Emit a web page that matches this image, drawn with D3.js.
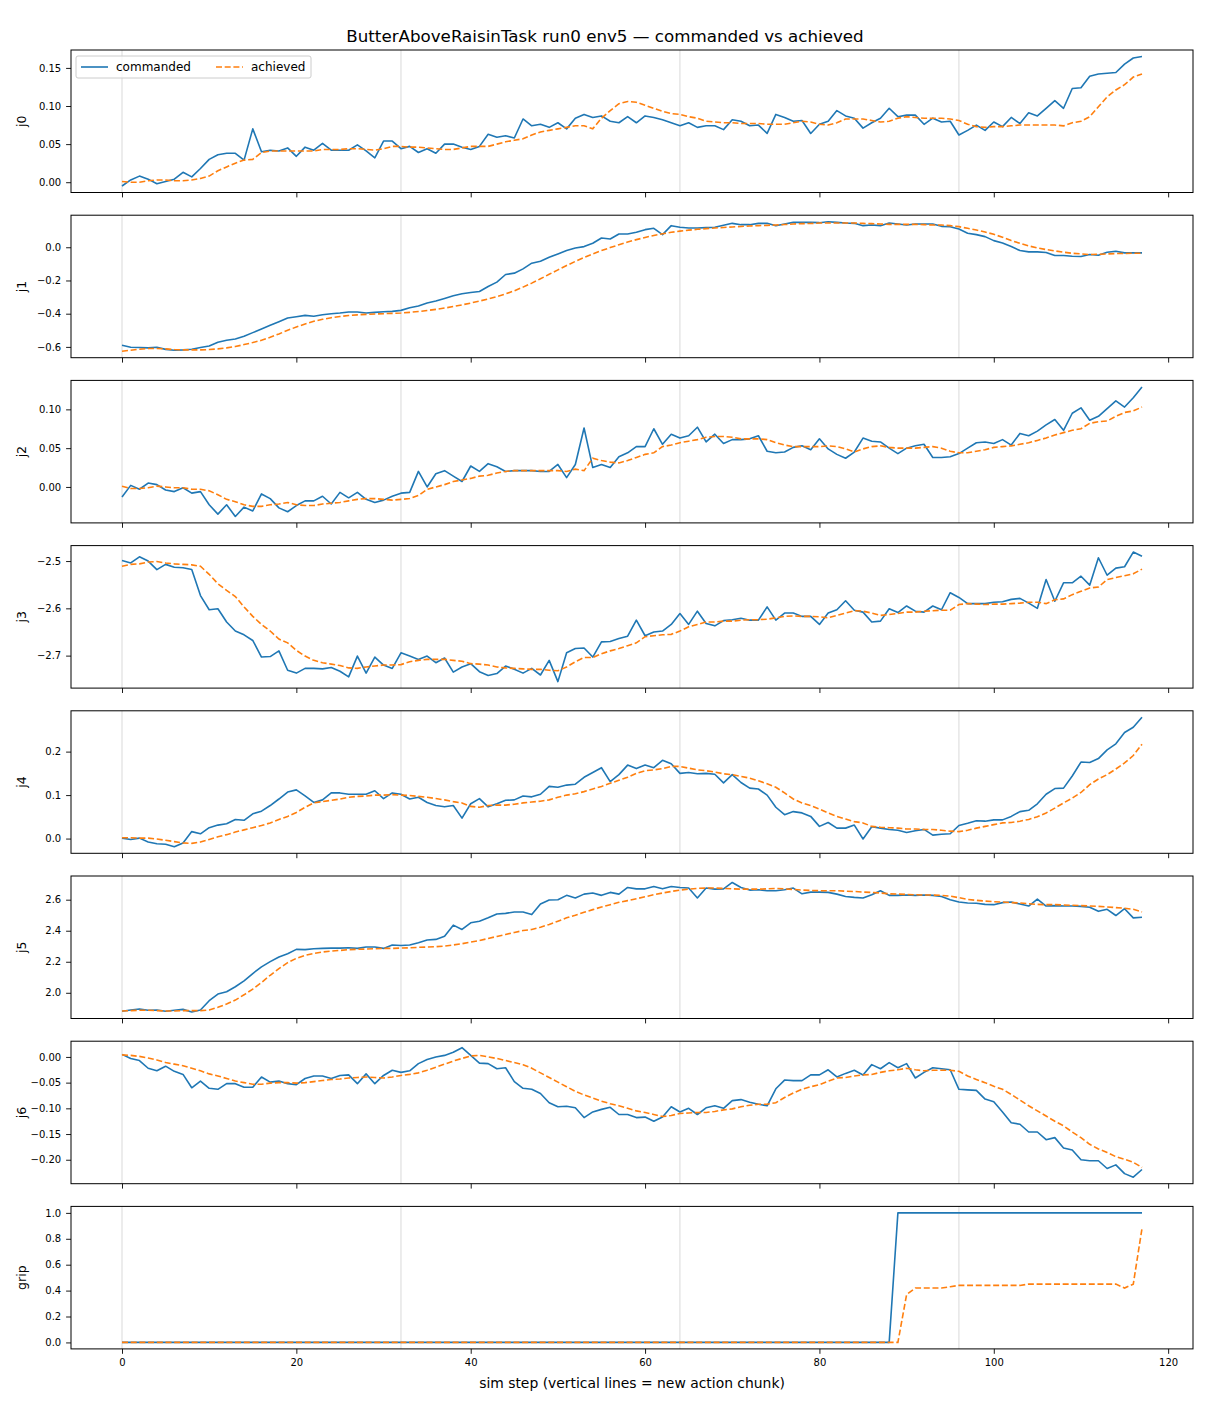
<!DOCTYPE html>
<html>
<head>
<meta charset="utf-8">
<script src="https://cdn.jsdelivr.net/npm/d3@7"></script>
<style>
  body { margin: 0; background: #ffffff; }
  svg text { font-family: "DejaVu Sans", sans-serif; fill: #000; }
</style>
</head>
<body>
<svg id="chart" width="1210" height="1408"></svg>
<script>
// ---------------- DATA ----------------
const titleText = "ButterAboveRaisinTask run0 env5 — commanded vs achieved";
const xLabelText = "sim step (vertical lines = new action chunk)";
const seriesNames = ["commanded", "achieved"];
const panelLabels = ["j0", "j1", "j2", "j3", "j4", "j5", "j6", "grip"];
const chunkStarts = [0, 32, 64, 96];
const xTicks = [0, 20, 40, 60, 80, 100, 120];

const j0Ticks = [0.00, 0.05, 0.10, 0.15];
const j1Ticks = [-0.6, -0.4, -0.2, 0.0];
const j2Ticks = [0.00, 0.05, 0.10];
const j3Ticks = [-2.7, -2.6, -2.5];
const j4Ticks = [0.0, 0.1, 0.2];
const j5Ticks = [2.0, 2.2, 2.4, 2.6];
const j6Ticks = [-0.20, -0.15, -0.10, -0.05, 0.00];
const gripTicks = [0.0, 0.2, 0.4, 0.6, 0.8, 1.0];

const j0Cmd = [
 -0.005, 0.003, 0.008, 0.004, -0.002, 0.001, 0.004, 0.013, 0.007, 0.018,
 0.030, 0.036, 0.038, 0.038, 0.029, 0.070, 0.040, 0.042, 0.041, 0.045,
 0.034, 0.046, 0.042, 0.051, 0.042, 0.042, 0.042, 0.049, 0.041, 0.032,
 0.054, 0.054, 0.044, 0.047, 0.039, 0.044, 0.038, 0.050, 0.050, 0.046,
 0.043, 0.047, 0.063, 0.059, 0.061, 0.058, 0.083, 0.074, 0.076, 0.072,
 0.078, 0.070, 0.084, 0.089, 0.085, 0.087, 0.080, 0.078, 0.086, 0.078,
 0.087, 0.085, 0.082, 0.078, 0.074, 0.078, 0.072, 0.074, 0.074, 0.069,
 0.082, 0.080, 0.074, 0.075, 0.064, 0.089, 0.085, 0.080, 0.081, 0.064,
 0.076, 0.080, 0.094, 0.087, 0.084, 0.071, 0.078, 0.084, 0.097, 0.086,
 0.088, 0.088, 0.076, 0.084, 0.079, 0.080, 0.062, 0.068, 0.075, 0.068,
 0.079, 0.073, 0.085, 0.077, 0.091, 0.087, 0.097, 0.107, 0.097, 0.123,
 0.124, 0.139, 0.142, 0.143, 0.144, 0.155, 0.163, 0.165
];
const j0Ach = [
 0.001, 0.000, 0.000, 0.002, 0.003, 0.003, 0.002, 0.002, 0.003, 0.005,
 0.008, 0.015, 0.020, 0.025, 0.029, 0.030, 0.039, 0.041, 0.041, 0.041,
 0.041, 0.041, 0.041, 0.043, 0.043, 0.043, 0.044, 0.044, 0.043, 0.042,
 0.044, 0.047, 0.047, 0.046, 0.046, 0.045, 0.044, 0.043, 0.043, 0.045,
 0.047, 0.047, 0.047, 0.050, 0.053, 0.055, 0.057, 0.062, 0.066, 0.068,
 0.070, 0.072, 0.074, 0.074, 0.070, 0.084, 0.094, 0.103, 0.106, 0.105,
 0.101, 0.097, 0.093, 0.090, 0.089, 0.086, 0.084, 0.080, 0.079, 0.078,
 0.078, 0.077, 0.077, 0.077, 0.076, 0.076, 0.076, 0.078, 0.080, 0.079,
 0.076, 0.075, 0.078, 0.083, 0.083, 0.083, 0.081, 0.079, 0.080, 0.084,
 0.086, 0.085, 0.084, 0.084, 0.084, 0.083, 0.081, 0.076, 0.073, 0.072,
 0.073, 0.073, 0.074, 0.075, 0.075, 0.075, 0.075, 0.075, 0.074, 0.078,
 0.080, 0.086, 0.099, 0.112, 0.121, 0.128, 0.138, 0.142
];

const j1Cmd = [
 -0.590, -0.602, -0.604, -0.606, -0.602, -0.615, -0.620, -0.618, -0.614, -0.604,
 -0.595, -0.572, -0.560, -0.552, -0.536, -0.514, -0.492, -0.470, -0.448, -0.426,
 -0.418, -0.410, -0.415, -0.406, -0.400, -0.396, -0.390, -0.390, -0.396, -0.392,
 -0.388, -0.386, -0.380, -0.364, -0.354, -0.336, -0.324, -0.308, -0.292, -0.280,
 -0.272, -0.266, -0.236, -0.210, -0.164, -0.156, -0.130, -0.096, -0.084, -0.060,
 -0.040, -0.020, -0.004, 0.004, 0.024, 0.056, 0.050, 0.080, 0.080, 0.090,
 0.106, 0.114, 0.076, 0.130, 0.120, 0.116, 0.116, 0.118, 0.120, 0.132,
 0.144, 0.136, 0.136, 0.144, 0.144, 0.130, 0.140, 0.150, 0.150, 0.150,
 0.148, 0.154, 0.150, 0.146, 0.144, 0.130, 0.134, 0.130, 0.146, 0.140,
 0.134, 0.140, 0.140, 0.140, 0.126, 0.124, 0.110, 0.084, 0.076, 0.064,
 0.040, 0.026, 0.004, -0.020, -0.028, -0.028, -0.032, -0.050, -0.050, -0.054,
 -0.056, -0.044, -0.048, -0.030, -0.024, -0.034, -0.034, -0.034
];
const j1Ach = [
 -0.626, -0.620, -0.614, -0.610, -0.610, -0.612, -0.616, -0.618, -0.618, -0.618,
 -0.616, -0.612, -0.606, -0.598, -0.586, -0.574, -0.560, -0.542, -0.522, -0.500,
 -0.480, -0.462, -0.446, -0.434, -0.424, -0.417, -0.411, -0.407, -0.404, -0.402,
 -0.400, -0.398, -0.396, -0.392, -0.387, -0.381, -0.374, -0.366, -0.357, -0.347,
 -0.336, -0.324, -0.311, -0.297, -0.281, -0.262, -0.240, -0.216, -0.190, -0.163,
 -0.136, -0.110, -0.085, -0.062, -0.040, -0.020, -0.002, 0.015, 0.031, 0.046,
 0.059, 0.071, 0.081, 0.090, 0.097, 0.103, 0.108, 0.112, 0.116, 0.119,
 0.122, 0.125, 0.128, 0.130, 0.132, 0.134, 0.137, 0.140, 0.142, 0.143,
 0.146, 0.146, 0.146, 0.146, 0.146, 0.144, 0.142, 0.140, 0.138, 0.138,
 0.138, 0.138, 0.136, 0.134, 0.134, 0.130, 0.124, 0.114, 0.104, 0.092,
 0.078, 0.060, 0.040, 0.024, 0.008, -0.004, -0.014, -0.022, -0.030, -0.036,
 -0.040, -0.044, -0.042, -0.040, -0.038, -0.038, -0.036, -0.036
];

const j2Cmd = [
 -0.013, 0.002, -0.003, 0.005, 0.003, -0.004, -0.006, -0.001, -0.008, -0.006,
 -0.023, -0.035, -0.023, -0.038, -0.026, -0.031, -0.009, -0.015, -0.027, -0.032,
 -0.024, -0.018, -0.018, -0.012, -0.022, -0.007, -0.014, -0.007, -0.016, -0.020,
 -0.017, -0.012, -0.008, -0.007, 0.020, 0.000, 0.017, 0.021, 0.014, 0.007,
 0.027, 0.020, 0.030, 0.026, 0.020, 0.021, 0.021, 0.021, 0.020, 0.020,
 0.029, 0.012, 0.029, 0.076, 0.025, 0.029, 0.025, 0.039, 0.044, 0.052,
 0.052, 0.075, 0.055, 0.068, 0.063, 0.066, 0.077, 0.058, 0.068, 0.056,
 0.061, 0.061, 0.062, 0.066, 0.046, 0.044, 0.045, 0.051, 0.053, 0.048,
 0.062, 0.049, 0.042, 0.037, 0.045, 0.063, 0.059, 0.058, 0.050, 0.043,
 0.050, 0.053, 0.055, 0.038, 0.038, 0.039, 0.043, 0.050, 0.057, 0.058,
 0.056, 0.061, 0.054, 0.069, 0.066, 0.072, 0.080, 0.087, 0.073, 0.095,
 0.102, 0.086, 0.091, 0.101, 0.111, 0.103, 0.115, 0.129
];
const j2Ach = [
 0.001, -0.002, -0.002, -0.001, 0.001, 0.000, -0.001, -0.001, -0.003, -0.003,
 -0.005, -0.010, -0.016, -0.019, -0.023, -0.025, -0.025, -0.023, -0.022, -0.020,
 -0.023, -0.024, -0.024, -0.022, -0.021, -0.020, -0.018, -0.016, -0.015, -0.015,
 -0.016, -0.017, -0.016, -0.015, -0.011, -0.003, 0.000, 0.003, 0.007, 0.009,
 0.011, 0.014, 0.015, 0.018, 0.020, 0.021, 0.021, 0.021, 0.021, 0.021,
 0.021, 0.020, 0.023, 0.021, 0.037, 0.034, 0.032, 0.031, 0.034, 0.038,
 0.042, 0.044, 0.052, 0.054, 0.057, 0.059, 0.061, 0.064, 0.065, 0.065,
 0.064, 0.062, 0.062, 0.062, 0.061, 0.057, 0.054, 0.052, 0.052, 0.052,
 0.052, 0.053, 0.052, 0.049, 0.045, 0.049, 0.052, 0.053, 0.051, 0.050,
 0.050, 0.050, 0.051, 0.052, 0.050, 0.046, 0.044, 0.044, 0.046, 0.048,
 0.051, 0.052, 0.053, 0.055, 0.057, 0.060, 0.063, 0.067, 0.070, 0.073,
 0.075, 0.082, 0.084, 0.085, 0.091, 0.096, 0.098, 0.103
];

const j3Cmd = [
 -2.499, -2.504, -2.491, -2.500, -2.518, -2.507, -2.513, -2.514, -2.518, -2.573,
 -2.603, -2.601, -2.629, -2.648, -2.656, -2.668, -2.703, -2.702, -2.690, -2.731,
 -2.737, -2.727, -2.727, -2.728, -2.725, -2.733, -2.745, -2.701, -2.737, -2.703,
 -2.720, -2.727, -2.694, -2.701, -2.708, -2.701, -2.715, -2.705, -2.735, -2.724,
 -2.717, -2.734, -2.742, -2.738, -2.722, -2.729, -2.737, -2.727, -2.741, -2.710,
 -2.755, -2.694, -2.685, -2.684, -2.703, -2.671, -2.670, -2.664, -2.659, -2.625,
 -2.658, -2.650, -2.648, -2.634, -2.611, -2.634, -2.606, -2.632, -2.637, -2.626,
 -2.624, -2.621, -2.625, -2.625, -2.597, -2.625, -2.610, -2.610, -2.617, -2.617,
 -2.634, -2.610, -2.603, -2.584, -2.604, -2.608, -2.629, -2.627, -2.601, -2.609,
 -2.595, -2.606, -2.608, -2.595, -2.603, -2.567, -2.577, -2.590, -2.590, -2.590,
 -2.587, -2.586, -2.581, -2.579, -2.589, -2.600, -2.539, -2.585, -2.546, -2.546,
 -2.532, -2.551, -2.493, -2.530, -2.515, -2.512, -2.481, -2.490
];
const j3Ach = [
 -2.511, -2.507, -2.506, -2.502, -2.501, -2.504, -2.506, -2.507, -2.508, -2.511,
 -2.528, -2.548, -2.562, -2.575, -2.597, -2.617, -2.634, -2.648, -2.665, -2.673,
 -2.689, -2.701, -2.710, -2.715, -2.718, -2.721, -2.726, -2.727, -2.724, -2.722,
 -2.720, -2.720, -2.719, -2.713, -2.710, -2.708, -2.708, -2.708, -2.710, -2.712,
 -2.717, -2.718, -2.720, -2.724, -2.726, -2.727, -2.728, -2.729, -2.729, -2.731,
 -2.732, -2.724, -2.713, -2.704, -2.704, -2.696, -2.690, -2.685, -2.679, -2.673,
 -2.660, -2.658, -2.656, -2.655, -2.648, -2.639, -2.634, -2.629, -2.629, -2.627,
 -2.627, -2.625, -2.624, -2.624, -2.623, -2.620, -2.617, -2.616, -2.617, -2.617,
 -2.618, -2.620, -2.615, -2.610, -2.605, -2.606, -2.610, -2.615, -2.613, -2.611,
 -2.608, -2.608, -2.606, -2.605, -2.604, -2.604, -2.592, -2.590, -2.591, -2.592,
 -2.591, -2.591, -2.590, -2.589, -2.587, -2.587, -2.590, -2.582, -2.580, -2.571,
 -2.564, -2.557, -2.555, -2.539, -2.535, -2.531, -2.527, -2.517
];

const j4Cmd = [
 0.001, -0.002, 0.001, -0.008, -0.012, -0.013, -0.019, -0.010, 0.016, 0.011,
 0.025, 0.031, 0.034, 0.044, 0.042, 0.057, 0.063, 0.076, 0.091, 0.107,
 0.112, 0.098, 0.083, 0.089, 0.105, 0.105, 0.102, 0.102, 0.102, 0.110,
 0.092, 0.105, 0.102, 0.091, 0.095, 0.083, 0.076, 0.073, 0.076, 0.047,
 0.080, 0.092, 0.073, 0.080, 0.088, 0.089, 0.098, 0.096, 0.102, 0.120,
 0.118, 0.123, 0.125, 0.141, 0.152, 0.163, 0.131, 0.147, 0.169, 0.161,
 0.169, 0.163, 0.180, 0.172, 0.150, 0.152, 0.149, 0.150, 0.148, 0.128,
 0.147, 0.129, 0.116, 0.114, 0.100, 0.072, 0.055, 0.062, 0.059, 0.051,
 0.028, 0.037, 0.024, 0.024, 0.031, -0.001, 0.027, 0.024, 0.021, 0.019,
 0.014, 0.018, 0.021, 0.008, 0.010, 0.011, 0.030, 0.035, 0.041, 0.040,
 0.043, 0.043, 0.051, 0.062, 0.065, 0.080, 0.102, 0.115, 0.116, 0.144,
 0.176, 0.175, 0.184, 0.204, 0.218, 0.244, 0.256, 0.279
];
const j4Ach = [
 0.002, 0.002, 0.001, 0.001, -0.001, -0.004, -0.007, -0.010, -0.011, -0.008,
 -0.002, 0.004, 0.009, 0.015, 0.020, 0.025, 0.030, 0.036, 0.044, 0.051,
 0.060, 0.072, 0.082, 0.085, 0.088, 0.091, 0.095, 0.097, 0.098, 0.100,
 0.100, 0.101, 0.100, 0.099, 0.097, 0.095, 0.092, 0.089, 0.085, 0.082,
 0.074, 0.072, 0.076, 0.077, 0.077, 0.079, 0.082, 0.084, 0.086, 0.089,
 0.095, 0.100, 0.103, 0.108, 0.114, 0.120, 0.127, 0.134, 0.141, 0.150,
 0.156, 0.158, 0.161, 0.166, 0.166, 0.162, 0.158, 0.156, 0.153, 0.149,
 0.147, 0.143, 0.139, 0.133, 0.126, 0.118, 0.105, 0.091, 0.082, 0.076,
 0.068, 0.059, 0.051, 0.045, 0.039, 0.036, 0.028, 0.026, 0.025, 0.024,
 0.022, 0.022, 0.021, 0.021, 0.019, 0.017, 0.016, 0.019, 0.024, 0.028,
 0.032, 0.036, 0.037, 0.040, 0.044, 0.050, 0.059, 0.070, 0.082, 0.093,
 0.106, 0.124, 0.137, 0.147, 0.160, 0.174, 0.191, 0.217
];

const j5Cmd = [
 1.881, 1.889, 1.896, 1.887, 1.889, 1.881, 1.887, 1.893, 1.876, 1.889,
 1.949, 1.992, 2.007, 2.039, 2.077, 2.124, 2.167, 2.201, 2.231, 2.252,
 2.280, 2.278, 2.284, 2.286, 2.288, 2.288, 2.290, 2.286, 2.295, 2.295,
 2.286, 2.308, 2.305, 2.308, 2.323, 2.340, 2.344, 2.365, 2.436, 2.408,
 2.451, 2.461, 2.483, 2.508, 2.512, 2.521, 2.521, 2.504, 2.572, 2.598,
 2.600, 2.628, 2.611, 2.636, 2.643, 2.628, 2.647, 2.636, 2.679, 2.670,
 2.670, 2.685, 2.670, 2.685, 2.679, 2.675, 2.611, 2.675, 2.668, 2.670,
 2.711, 2.679, 2.662, 2.664, 2.658, 2.658, 2.664, 2.675, 2.638, 2.649,
 2.649, 2.647, 2.636, 2.621, 2.615, 2.611, 2.632, 2.658, 2.628, 2.628,
 2.630, 2.628, 2.630, 2.628, 2.621, 2.600, 2.585, 2.579, 2.577, 2.570,
 2.568, 2.581, 2.585, 2.572, 2.559, 2.604, 2.559, 2.562, 2.559, 2.559,
 2.557, 2.551, 2.525, 2.538, 2.498, 2.542, 2.483, 2.487
];
const j5Ach = [
 1.883, 1.885, 1.887, 1.887, 1.885, 1.883, 1.883, 1.885, 1.885, 1.885,
 1.889, 1.906, 1.928, 1.953, 1.987, 2.024, 2.066, 2.113, 2.156, 2.194,
 2.222, 2.241, 2.254, 2.263, 2.269, 2.273, 2.278, 2.280, 2.282, 2.284,
 2.286, 2.286, 2.288, 2.290, 2.293, 2.295, 2.297, 2.301, 2.308, 2.316,
 2.327, 2.337, 2.350, 2.363, 2.376, 2.389, 2.401, 2.408, 2.423, 2.440,
 2.461, 2.483, 2.500, 2.519, 2.536, 2.553, 2.568, 2.583, 2.594, 2.606,
 2.619, 2.632, 2.643, 2.653, 2.662, 2.668, 2.673, 2.675, 2.675, 2.673,
 2.670, 2.668, 2.668, 2.668, 2.670, 2.673, 2.670, 2.666, 2.662, 2.660,
 2.658, 2.658, 2.658, 2.655, 2.653, 2.649, 2.647, 2.643, 2.638, 2.636,
 2.634, 2.632, 2.630, 2.630, 2.628, 2.623, 2.613, 2.602, 2.596, 2.591,
 2.587, 2.585, 2.581, 2.579, 2.574, 2.570, 2.568, 2.568, 2.566, 2.564,
 2.562, 2.559, 2.557, 2.553, 2.549, 2.545, 2.538, 2.521
];

const j6Cmd = [
 0.005, -0.003, -0.007, -0.022, -0.027, -0.018, -0.028, -0.034, -0.060, -0.047,
 -0.061, -0.063, -0.052, -0.052, -0.059, -0.059, -0.039, -0.049, -0.047, -0.052,
 -0.054, -0.042, -0.037, -0.037, -0.042, -0.036, -0.035, -0.052, -0.033, -0.052,
 -0.036, -0.026, -0.030, -0.027, -0.013, -0.005, 0.000, 0.003, 0.009, 0.018,
 0.003, -0.012, -0.013, -0.023, -0.021, -0.048, -0.061, -0.063, -0.071, -0.089,
 -0.097, -0.096, -0.099, -0.118, -0.107, -0.102, -0.098, -0.112, -0.112, -0.118,
 -0.117, -0.125, -0.117, -0.097, -0.107, -0.100, -0.112, -0.099, -0.095, -0.100,
 -0.085, -0.083, -0.088, -0.092, -0.095, -0.062, -0.045, -0.046, -0.046, -0.035,
 -0.035, -0.025, -0.039, -0.032, -0.026, -0.035, -0.015, -0.023, -0.011, -0.021,
 -0.013, -0.041, -0.030, -0.021, -0.023, -0.025, -0.063, -0.064, -0.065, -0.082,
 -0.087, -0.107, -0.128, -0.131, -0.146, -0.146, -0.161, -0.157, -0.177, -0.181,
 -0.200, -0.202, -0.202, -0.217, -0.210, -0.227, -0.234, -0.219
];
const j6Ach = [
 0.004, 0.003, 0.001, -0.002, -0.006, -0.011, -0.014, -0.017, -0.022, -0.027,
 -0.033, -0.037, -0.042, -0.047, -0.050, -0.053, -0.053, -0.051, -0.050, -0.050,
 -0.051, -0.050, -0.048, -0.046, -0.044, -0.043, -0.041, -0.040, -0.039, -0.040,
 -0.041, -0.039, -0.036, -0.034, -0.031, -0.026, -0.020, -0.014, -0.008, -0.003,
 0.002, 0.003, 0.000, -0.003, -0.007, -0.011, -0.015, -0.022, -0.031, -0.040,
 -0.049, -0.058, -0.067, -0.074, -0.080, -0.086, -0.091, -0.095, -0.100, -0.105,
 -0.108, -0.112, -0.116, -0.114, -0.110, -0.109, -0.108, -0.108, -0.106, -0.103,
 -0.101, -0.097, -0.094, -0.092, -0.092, -0.089, -0.079, -0.070, -0.063, -0.058,
 -0.054, -0.047, -0.041, -0.040, -0.037, -0.035, -0.034, -0.030, -0.027, -0.025,
 -0.022, -0.025, -0.027, -0.026, -0.026, -0.026, -0.028, -0.037, -0.044, -0.050,
 -0.057, -0.063, -0.073, -0.084, -0.095, -0.105, -0.115, -0.125, -0.134, -0.146,
 -0.157, -0.170, -0.179, -0.186, -0.194, -0.199, -0.205, -0.215
];

const gripCmd = [
 0, 0, 0, 0, 0, 0, 0, 0, 0, 0,
 0, 0, 0, 0, 0, 0, 0, 0, 0, 0,
 0, 0, 0, 0, 0, 0, 0, 0, 0, 0,
 0, 0, 0, 0, 0, 0, 0, 0, 0, 0,
 0, 0, 0, 0, 0, 0, 0, 0, 0, 0,
 0, 0, 0, 0, 0, 0, 0, 0, 0, 0,
 0, 0, 0, 0, 0, 0, 0, 0, 0, 0,
 0, 0, 0, 0, 0, 0, 0, 0, 0, 0,
 0, 0, 0, 0, 0, 0, 0, 0, 0, 1,
 1, 1, 1, 1, 1, 1, 1, 1, 1, 1,
 1, 1, 1, 1, 1, 1, 1, 1, 1, 1,
 1, 1, 1, 1, 1, 1, 1, 1
];
const gripAch = [
 0, 0, 0, 0, 0, 0, 0, 0, 0, 0,
 0, 0, 0, 0, 0, 0, 0, 0, 0, 0,
 0, 0, 0, 0, 0, 0, 0, 0, 0, 0,
 0, 0, 0, 0, 0, 0, 0, 0, 0, 0,
 0, 0, 0, 0, 0, 0, 0, 0, 0, 0,
 0, 0, 0, 0, 0, 0, 0, 0, 0, 0,
 0, 0, 0, 0, 0, 0, 0, 0, 0, 0,
 0, 0, 0, 0, 0, 0, 0, 0, 0, 0,
 0, 0, 0, 0, 0, 0, 0, 0, 0, 0,
 0.37, 0.42, 0.42, 0.42, 0.42, 0.43, 0.44, 0.44, 0.44, 0.44,
 0.44, 0.44, 0.44, 0.44, 0.45, 0.45, 0.45, 0.45, 0.45, 0.45,
 0.45, 0.45, 0.45, 0.45, 0.45, 0.42, 0.45, 0.88
];

const steps = j0Cmd.map((_, i) => i);

// ---------------- LAYOUT ----------------
const panels = [
  { label: panelLabels[0], cmd: j0Cmd, ach: j0Ach, ticks: j0Ticks, fmt: ".2f" },
  { label: panelLabels[1], cmd: j1Cmd, ach: j1Ach, ticks: j1Ticks, fmt: ".1f" },
  { label: panelLabels[2], cmd: j2Cmd, ach: j2Ach, ticks: j2Ticks, fmt: ".2f" },
  { label: panelLabels[3], cmd: j3Cmd, ach: j3Ach, ticks: j3Ticks, fmt: ".1f" },
  { label: panelLabels[4], cmd: j4Cmd, ach: j4Ach, ticks: j4Ticks, fmt: ".1f" },
  { label: panelLabels[5], cmd: j5Cmd, ach: j5Ach, ticks: j5Ticks, fmt: ".1f" },
  { label: panelLabels[6], cmd: j6Cmd, ach: j6Ach, ticks: j6Ticks, fmt: ".2f" },
  { label: panelLabels[7], cmd: gripCmd, ach: gripAch, ticks: gripTicks, fmt: ".1f" }
];

const left = 71, right = 1193;
const top0 = 50, step = 165.2, ph = 142.5;
const blue = "#1f77b4", orange = "#ff7f0e";
const tickLen = 4.9, tickPad = 4.9, tickFont = 10;

const svg = d3.select("#chart");
svg.append("rect").attr("width", 1210).attr("height", 1408).attr("fill", "#fff");

const xMin = d3.min(steps), xMax = d3.max(steps), xPad = (xMax - xMin) * 0.05;
const x = d3.scaleLinear().domain([xMin - xPad, xMax + xPad]).range([left, right]);

panels.forEach((p, idx) => {
  const top = top0 + idx * step;
  const g = svg.append("g").attr("transform", `translate(0,${top})`);
  const all = p.cmd.concat(p.ach);
  const lo = d3.min(all), hi = d3.max(all), pad = (hi - lo) * 0.05;
  const y = d3.scaleLinear().domain([lo - pad, hi + pad]).range([ph, 0]);

  // chunk lines
  g.selectAll("line.chunk").data(chunkStarts).enter().append("line")
    .attr("x1", d => x(d)).attr("x2", d => x(d))
    .attr("y1", 0).attr("y2", ph)
    .attr("stroke", "#808080").attr("stroke-opacity", 0.3).attr("stroke-width", 1);

  const line = d3.line().x((d, i) => x(steps[i])).y(d => y(d));

  g.append("path").datum(p.cmd).attr("d", line)
    .attr("fill", "none").attr("stroke", blue).attr("stroke-width", 1.6)
    .attr("stroke-linejoin", "round");
  g.append("path").datum(p.ach).attr("d", line)
    .attr("fill", "none").attr("stroke", orange).attr("stroke-width", 1.6)
    .attr("stroke-dasharray", "6,2.7");

  // y axis
  const ya = g.append("g").attr("transform", `translate(${left},0)`)
    .call(d3.axisLeft(y).tickValues(p.ticks).tickFormat(d3.format(p.fmt))
      .tickSize(tickLen).tickPadding(tickPad));
  ya.select(".domain").remove();
  ya.selectAll("text").attr("font-size", tickFont).attr("font-family", "DejaVu Sans");
  ya.selectAll("line").attr("stroke", "#000").attr("stroke-width", 0.9);

  // x axis
  const last = idx === panels.length - 1;
  const xa = g.append("g").attr("transform", `translate(0,${ph})`)
    .call(d3.axisBottom(x).tickValues(xTicks)
      .tickFormat(last ? d3.format("d") : () => "")
      .tickSize(tickLen).tickPadding(tickPad));
  xa.select(".domain").remove();
  xa.selectAll("text").attr("font-size", tickFont).attr("font-family", "DejaVu Sans");
  xa.selectAll("line").attr("stroke", "#000").attr("stroke-width", 0.9);

  // frame
  g.append("rect").attr("x", left).attr("y", 0)
    .attr("width", right - left).attr("height", ph)
    .attr("fill", "none").attr("stroke", "#000").attr("stroke-width", 1);

  // y label
  g.append("text").attr("transform", `translate(26,${ph / 2}) rotate(-90)`)
    .attr("text-anchor", "middle").attr("font-size", 12.5).text(p.label);

  // legend
  if (idx === 0) {
    const lg = g.append("g");
    lg.append("rect").attr("x", 76).attr("y", 6).attr("width", 235).attr("height", 22)
      .attr("rx", 2).attr("fill", "#fff").attr("fill-opacity", 0.8)
      .attr("stroke", "#cccccc").attr("stroke-width", 1);
    const items = [
      { name: seriesNames[0], color: blue, dash: null, x0: 81 },
      { name: seriesNames[1], color: orange, dash: "6,2.7", x0: 216 }
    ];
    items.forEach(it => {
      const l = lg.append("line").attr("x1", it.x0).attr("x2", it.x0 + 27)
        .attr("y1", 17).attr("y2", 17)
        .attr("stroke", it.color).attr("stroke-width", 1.6);
      if (it.dash) l.attr("stroke-dasharray", it.dash);
      lg.append("text").attr("x", it.x0 + 35).attr("y", 21.3)
        .attr("font-size", 12).text(it.name);
    });
  }
});

// title & x label
svg.append("text").attr("x", 605).attr("y", 42).attr("text-anchor", "middle")
  .attr("font-size", 16.7).text(titleText);
svg.append("text").attr("x", (left + right) / 2).attr("y", 1388).attr("text-anchor", "middle")
  .attr("font-size", 13.9).text(xLabelText);
</script>
</body>
</html>
